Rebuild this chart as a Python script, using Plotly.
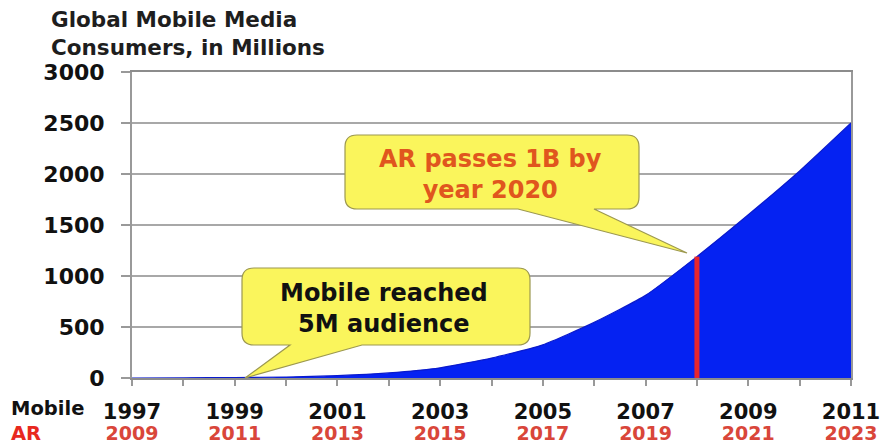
import plotly.graph_objects as go

# ---------------- data ----------------
years = list(range(1997, 2012))
mobile_users = [0, 1, 5, 10, 23, 50, 100, 195, 325, 545, 810, 1190, 1600, 2030, 2500]
label_years_mobile = [1997, 1999, 2001, 2003, 2005, 2007, 2009, 2011]
label_years_ar = [2009, 2011, 2013, 2015, 2017, 2019, 2021, 2023]
ar_billion_mobile_year = 2008
y_ticks = [0, 500, 1000, 1500, 2000, 2500, 3000]

# ---------------- layout geometry ----------------
W, H = 882, 446
ML, MR, MT, MB = 132, 31, 72, 68
X0, X1 = 1997, 2011
Y0, Y1 = 0, 3000
PW, PH = W - ML - MR, H - MT - MB

def px2x(px):
    return X0 + (px - ML) / PW * (X1 - X0)

def py2y(py):
    return Y0 + (MT + PH - py) / PH * (Y1 - Y0)

def bubble(bx0, bx1, by0, by1, r, base_a, base_b, tip):
    """speech bubble path (pixel spec -> data coords); pointer on bottom edge"""
    P = lambda px, py: f"{px2x(px):.5f},{py2y(py):.3f}"
    d = [
        "M" + P(bx0 + r, by0),
        "L" + P(bx1 - r, by0),
        "Q" + P(bx1, by0) + " " + P(bx1, by0 + r),
        "L" + P(bx1, by1 - r),
        "Q" + P(bx1, by1) + " " + P(bx1 - r, by1),
        "L" + P(base_b, by1),
        "L" + P(tip[0], tip[1]),
        "L" + P(base_a, by1),
        "L" + P(bx0 + r, by1),
        "Q" + P(bx0, by1) + " " + P(bx0, by1 - r),
        "L" + P(bx0, by0 + r),
        "Q" + P(bx0, by0) + " " + P(bx0 + r, by0),
        "Z",
    ]
    return " ".join(d)

FONT = "DejaVu Sans"
ar_value = mobile_users[years.index(ar_billion_mobile_year)]

fig = go.Figure()
fig.add_trace(go.Scatter(
    x=years, y=mobile_users, mode="lines", fill="tozeroy",
    fillcolor="#0522F2", line=dict(color="#0A1ACC", width=1.2, shape="spline", smoothing=0.5),
    hoverinfo="skip", showlegend=False))
fig.add_trace(go.Scatter(
    x=[ar_billion_mobile_year, ar_billion_mobile_year], y=[0, ar_value], mode="lines",
    line=dict(color="#E8262C", width=5), hoverinfo="skip", showlegend=False))
# invisible carrier so that the AR-year axis gets drawn
fig.add_trace(go.Scatter(
    x=[label_years_mobile[0]], y=[0], xaxis="x2", mode="markers",
    marker=dict(opacity=0), hoverinfo="skip", showlegend=False))

shapes = [
    dict(type="path", layer="above",
         path=bubble(345, 639, 135, 209, 12, 518, 594, (687, 253)),
         fillcolor="#FAF55C", line=dict(color="#9C9850", width=1.2)),
    dict(type="path", layer="above",
         path=bubble(242, 530, 268, 345, 12, 290, 362, (245, 378)),
         fillcolor="#FAF55C", line=dict(color="#9C9850", width=1.2)),
]

annotations = [
    dict(xref="paper", yref="paper", x=(49 - ML) / PW, y=1 + (MT - 5) / PH,
         xanchor="left", yanchor="top", align="left", showarrow=False,
         text="Global Mobile Media<br>Consumers, in Millions",
         font=dict(family=FONT, size=21.5, color="#1E1E1E", weight="bold")),
    dict(xref="x", yref="y", x=px2x(490), y=py2y(174), showarrow=False,
         text="AR passes 1B by<br>year 2020", align="center",
         font=dict(family=FONT, size=24, color="#E0561E", weight="bold")),
    dict(xref="x", yref="y", x=px2x(384), y=py2y(308), showarrow=False,
         text="Mobile reached<br>5M audience", align="center",
         font=dict(family=FONT, size=24, color="#111111", weight="bold")),
    dict(xref="paper", yref="paper", x=(10 - ML) / PW, y=-(421 - MT - PH) / PH,
         xanchor="left", yanchor="middle", showarrow=False, align="left", borderpad=0,
         text="Mobile<br><span style='color:#E8281E'>AR</span>",
         font=dict(family=FONT, size=19.5, color="#111111", weight="bold")),
]

fig.update_layout(
    width=W, height=H, margin=dict(l=ML, r=MR, t=MT, b=MB, pad=0, autoexpand=False),
    paper_bgcolor="white", plot_bgcolor="white",
    shapes=shapes, annotations=annotations, showlegend=False,
    xaxis=dict(range=[X0, X1], tickmode="array", tickvals=years,
               ticktext=[str(y) if y in label_years_mobile else "" for y in years],
               ticks="outside", ticklen=6, tickcolor="#999999", tickwidth=1.5,
               showgrid=False, zeroline=False, showline=True, linecolor="#8C8C8C",
               linewidth=2, mirror=True, layer="below traces", automargin=False,
               ticklabelstandoff=8,
               tickfont=dict(family=FONT, size=21, color="#111111", weight="bold")),
    xaxis2=dict(range=[X0, X1], overlaying="x", anchor="y", side="bottom",
                tickmode="array", tickvals=label_years_mobile,
                ticktext=[str(y) for y in label_years_ar], ticks="", automargin=False,
                showgrid=False, zeroline=False, showline=False,
                ticklabelstandoff=42,
                tickfont=dict(family=FONT, size=19, color="#D9463A", weight="bold")),
    yaxis=dict(range=[Y0, Y1], tickmode="array", tickvals=y_ticks,
               ticks="outside", ticklen=9, tickcolor="#999999", tickwidth=1.5,
               showgrid=True, gridcolor="#A8A8A8", gridwidth=1.5, automargin=False,
               zeroline=False, showline=True, linecolor="#999999", linewidth=2,
               mirror=True, layer="below traces", ticklabelstandoff=12,
               tickfont=dict(family=FONT, size=22, color="#111111", weight="bold")),
)

fig.write_html("out.html")
